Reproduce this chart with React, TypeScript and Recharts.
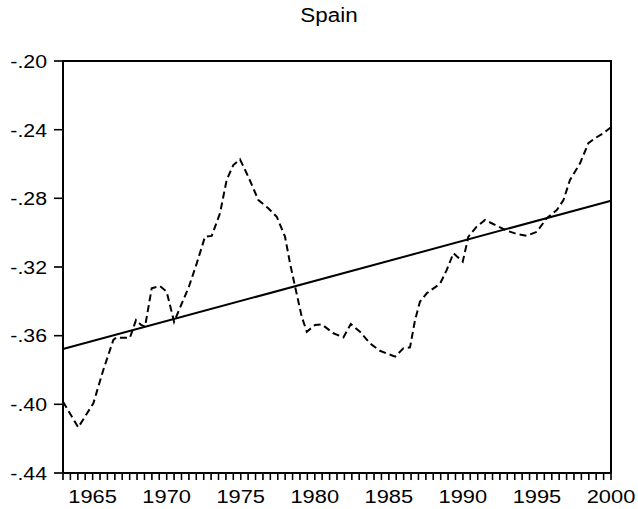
import React from "react";
import {
  LineChart,
  Line,
  XAxis,
  YAxis,
  ReferenceArea,
} from "recharts";

const YEARS = [
  1963.0, 1964.03, 1965.05, 1965.72, 1966.4, 1966.58, 1967.52, 1967.93, 1968.27, 1968.54,
  1968.99, 1969.55, 1970.0, 1970.5, 1971.5, 1972.03, 1972.59, 1973.04, 1973.6, 1974.05,
  1974.5, 1974.95, 1975.51, 1976.19, 1976.86, 1977.43, 1977.99, 1978.33, 1978.67, 1979.12,
  1979.46, 1980.02, 1980.47, 1981.26, 1981.93, 1982.43, 1983.05, 1983.73, 1984.4, 1985.42,
  1985.98, 1986.43, 1986.77, 1987.1, 1987.56, 1988.46, 1988.91, 1989.36, 1989.99, 1990.37,
  1990.93, 1991.5, 1992.17, 1992.96, 1993.64, 1994.31, 1994.99, 1995.66, 1996.34, 1996.79,
  1997.23, 1997.91, 1998.47, 1998.92, 1999.48, 2000.0,
];

const SPAIN = [
  -0.3985, -0.4134, -0.3994, -0.38, -0.3625, -0.3612, -0.3612, -0.3509, -0.3538, -0.3548,
  -0.3324, -0.3311, -0.3344, -0.3519, -0.3315, -0.3179, -0.3023, -0.3019, -0.2887, -0.2693,
  -0.2606, -0.2573, -0.2674, -0.281, -0.2858, -0.2907, -0.3023, -0.3179, -0.3315, -0.349,
  -0.3577, -0.3538, -0.3534, -0.3586, -0.361, -0.3532, -0.3577, -0.3645, -0.3688, -0.3722,
  -0.3674, -0.3668, -0.3509, -0.3402, -0.3353, -0.3297, -0.3217, -0.312, -0.3169, -0.3023,
  -0.2965, -0.2926, -0.2955, -0.2988, -0.3008, -0.3018, -0.2995, -0.2916, -0.2868, -0.281,
  -0.2693, -0.2596, -0.2479, -0.245, -0.2421, -0.2386,
];

// fitted trend, endpoints only
const TREND_YEARS = [1963, 2000];
const TREND = [-0.3678, -0.2814];

const Y_TICKS = [-0.44, -0.4, -0.36, -0.32, -0.28, -0.24, -0.2];
const X_LABELS = [1965, 1970, 1975, 1980, 1985, 1990, 1995, 2000];
const X_TICKS: number[] = [];
for (let y = 1963; y <= 2000; y += 0.5) X_TICKS.push(y);

const FONT = "'Liberation Sans', Arial, sans-serif";
const X_TICK_LEN = 7;
const X_TICK_GAP = 10;
const Y_TICK_LEN = 9;
const Y_TICK_GAP = 7;

const seriesData = YEARS.map((year, i) => ({ year, value: SPAIN[i] }));
const trendData = TREND_YEARS.map((year, i) => ({ year, trend: TREND[i] }));

const fmtY = (v: number) => v.toFixed(2).replace("0.", ".");

function XTick(props: any) {
  const { x, y, payload } = props;
  const v = Math.round(payload.value * 2) / 2;
  const top = Number(y) - X_TICK_GAP - X_TICK_LEN;
  return (
    <g>
      <rect x={Number(x) - 0.75} y={top} width={1.5} height={X_TICK_LEN} fill="#000" />
      {X_LABELS.includes(v) && (
        <text
          x={x}
          y={y}
          dy="0.71em"
          textAnchor="middle"
          fontSize={19}
          fontFamily={FONT}
          fill="#000"
          transform={`translate(${-0.15 * Number(x)},0) scale(1.15,1)`}
        >
          {v}
        </text>
      )}
    </g>
  );
}

function YTick(props: any) {
  const { x, y, payload } = props;
  const right = Number(x) + Y_TICK_GAP + Y_TICK_LEN;
  return (
    <g>
      <rect x={right - Y_TICK_LEN} y={Number(y) - 0.75} width={Y_TICK_LEN} height={1.5} fill="#000" />
      <text
        x={x}
        y={y}
        dy="0.36em"
        textAnchor="end"
        fontSize={19}
        fontFamily={FONT}
        fill="#000"
        transform={`translate(${-0.12 * Number(x)},0) scale(1.12,1)`}
      >
        {fmtY(payload.value)}
      </text>
    </g>
  );
}

export default function App() {
  return (
    <div style={{ position: "absolute", left: 0, top: 0, width: 638, height: 509 }}>
      <div
        style={{
          position: "absolute",
          left: 0,
          top: 4,
          width: 658,
          textAlign: "center",
          fontFamily: FONT,
          fontSize: 20,
          color: "#000",
          transform: "scaleX(1.12)",
          transformOrigin: "329px 0",
        }}
      >
        Spain
      </div>
      <LineChart
        width={638}
        height={509}
        margin={{ top: 61, right: 27, bottom: 0, left: 0 }}
      >
        <XAxis
          dataKey="year"
          type="number"
          domain={[1963, 2000]}
          ticks={X_TICKS}
          interval={0}
          height={36}
          tickSize={X_TICK_LEN}
          tickMargin={X_TICK_GAP}
          axisLine={{ stroke: "#000", strokeWidth: 2 }}
          tick={XTick}
        />
        <YAxis
          type="number"
          domain={[-0.44, -0.2]}
          ticks={Y_TICKS}
          interval={0}
          width={63}
          tickSize={Y_TICK_LEN}
          tickMargin={Y_TICK_GAP}
          axisLine={{ stroke: "#000", strokeWidth: 2 }}
          tick={YTick}
        />
        <ReferenceArea
          x1={1963}
          x2={2000}
          y1={-0.44}
          y2={-0.2}
          fill="none"
          fillOpacity={0}
          stroke="#000"
          strokeWidth={2}
        />
        <Line
          data={trendData}
          dataKey="trend"
          type="linear"
          stroke="#000"
          strokeWidth={2}
          dot={false}
          isAnimationActive={false}
        />
        <Line
          data={seriesData}
          dataKey="value"
          type="linear"
          stroke="#000"
          strokeWidth={2}
          strokeDasharray="7 4"
          dot={false}
          isAnimationActive={false}
        />
      </LineChart>
    </div>
  );
}
